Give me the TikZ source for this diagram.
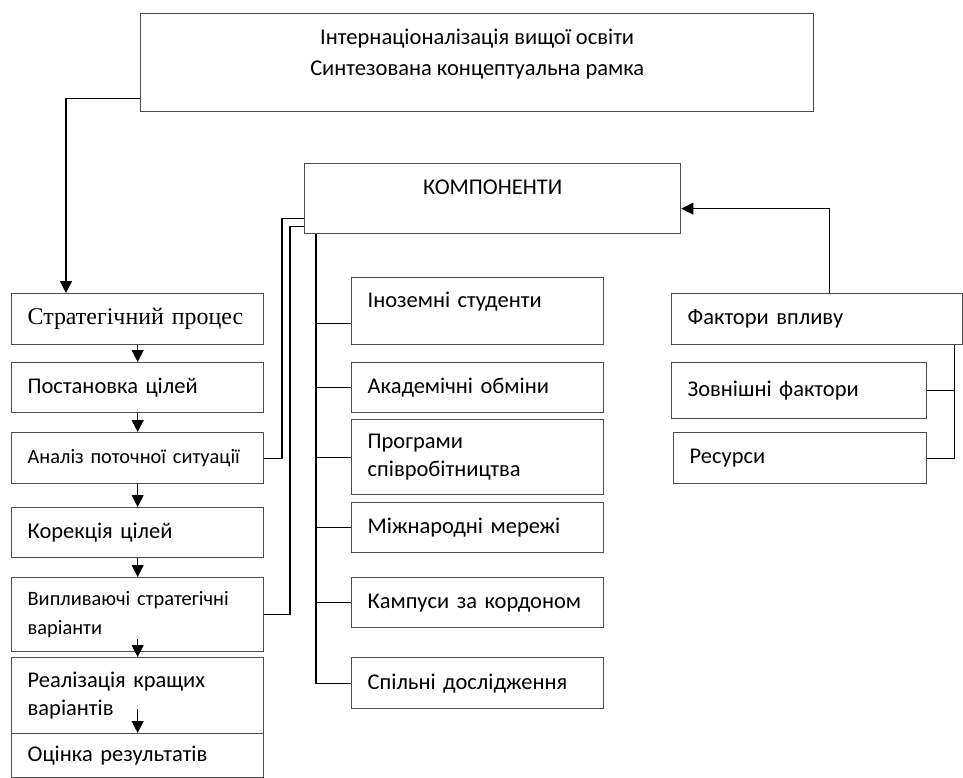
\documentclass[tikz,border=0pt]{standalone}
\usepackage{fontspec}
\setmainfont{Carlito}
\newfontfamily\serifcyr{Liberation Serif}
\usetikzlibrary{arrows.meta,calc}

\tikzset{
  box/.style={draw=black!70, line width=0.9pt, anchor=north west, inner xsep=0.4cm, inner ysep=0pt,
    minimum width=6.3cm, text width=5.5cm, align=left, font=\fontsize{16}{19.5}\selectfont},
  small/.style={font=\fontsize{14.5}{20}\selectfont},
  link/.style={line width=0.8pt},
  arr/.style={link, -{Triangle[width=8.5pt,length=8.5pt]}},
}

\begin{document}
\begin{tikzpicture}[x=0.025cm, y=-0.025cm]
  \useasboundingbox (0,0) rectangle (963,778);
  % Title box
  \node (top) at (140,13) [draw=black!70, line width=0.9pt, anchor=north west, minimum width=16.825cm,
    minimum height=2.45cm, align=center, font=\fontsize{16}{22.5}\selectfont]
    {Інтернаціоналізація вищої освіти\\Синтезована концептуальна рамка\rule[-15pt]{0pt}{0pt}};
  % Strategic process (top to bottom)
  \node (strat) at (11,293) [box, minimum height=1.275cm, font=\serifcyr\fontsize{17}{20}\selectfont] {Стратегічний процес};
  \node (post) at (11,362) [box, minimum height=1.25cm] {Постановка цілей};
  \node (anal) at (11,432) [box, small, minimum height=1.275cm] {Аналіз поточної ситуації};
  \node (kor) at (11,507) [box, minimum height=1.25cm] {Корекція цілей};
  \node (vyp) at (11,577) [box, small, minimum height=1.85cm] {Випливаючі стратегічні\\варіанти};
  \node (real) at (11,657) [box, minimum height=1.9cm] {Реалізація кращих\\варіантів};
  \node (ocin) at (11,733) [box, minimum height=1.1cm] {Оцінка результатів};
  % Components
  \node (komp) at (304,163) [draw=black!70, line width=0.9pt, anchor=north west, minimum width=9.4cm,
    minimum height=1.75cm, font=\fontsize{16}{20}\selectfont, text height=0.25cm, text depth=0.45cm] {КОМПОНЕНТИ};
  \node (ino) at (351,277) [box, minimum height=1.675cm, text height=0.25cm, text depth=0.425cm] {Іноземні студенти};
  \node (akad) at (351,362) [box, minimum height=1.25cm] {Академічні обміни};
  \node (prog) at (351,419) [box, minimum height=1.875cm] {Програми\\співробітництва};
  \node (mizh) at (351,502) [box, minimum height=1.25cm] {Міжнародні мережі};
  \node (kamp) at (351,577) [box, minimum height=1.25cm] {Кампуси за кордоном};
  \node (spil) at (351,657) [box, minimum height=1.275cm] {Спільні дослідження};
  % Factors
  \node (fakt) at (671,293) [box, minimum width=7.275cm, text width=6.475cm, minimum height=1.275cm] {Фактори впливу};
  \node (zovn) at (671,362) [box, minimum width=6.375cm, text width=5.575cm, minimum height=1.4cm] {Зовнішні фактори};
  \node (res) at (673,432) [box, minimum width=6.325cm, text width=5.525cm, minimum height=1.275cm] {Ресурси};

  % Process arrows
  \draw[arr] ($(top.south west)+(0,-14)$) -| ($(strat.north west)+(55,0)$);
  \foreach \a/\b in {strat/post, post/anal, anal/kor, kor/vyp}
    \draw[arr] (\a.south) -- (\b.north);
  \draw[arr] ($(vyp.south)+(0,-13)$) -- (real.north);
  \draw[arr] ($(real.south)+(0,-25)$) -- (ocin.north);
  % Links from components
  \draw[link] ($(komp.south west)+(0,-16)$) -- ++(-22,0) |- (anal.east);
  \draw[link] ($(komp.south west)+(0,-8)$) -- ++(-14,0) |- (vyp.east);
  \coordinate (trunk) at ($(komp.south west)+(12,0)$);
  \coordinate (inolink) at ($(ino.south west)+(0,-22)$);
  \draw[link] (trunk) |- (spil.west);
  \draw[link] (trunk |- inolink) -- (inolink);
  \foreach \n in {akad, prog, mizh, kamp}
    \draw[link] (trunk |- \n.west) -- (\n.west);
  % Factors
  \draw[arr] ($(fakt.north)+(12,0)$) |- ($(komp.east)+(0,10)$);
  \coordinate (fbus) at ($(fakt.south east)+(-9,0)$);
  \draw[link] (fbus) |- (res.east);
  \draw[link] (fbus |- zovn.east) -- (zovn.east);
\end{tikzpicture}
\end{document}
